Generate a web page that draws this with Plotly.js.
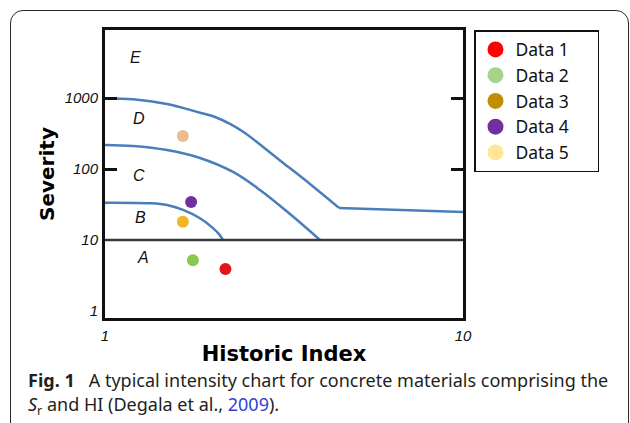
<!DOCTYPE html>
<html>
<head>
<meta charset="utf-8">
<script src="https://cdn.plot.ly/plotly-3.0.1.min.js"></script>
<style>
  html, body { margin: 0; padding: 0; background: #fff; }
  #wrap { position: relative; width: 630px; height: 423px; overflow: hidden; }
  #chart { position: absolute; left: 0; top: 0; width: 630px; height: 423px; }
  #frame { position: absolute; left: 10px; top: 10px; width: 617px; height: 440px;
           border: 1.3px solid #2a2a2a; border-radius: 13px; pointer-events: none; }
</style>
</head>
<body>
<div id="wrap">
  <div id="chart"></div>
  <div id="frame"></div>
</div>
<script>
// ---- data ----
const seriesNames = ['Data 1', 'Data 2', 'Data 3', 'Data 4', 'Data 5'];
const historicIndex = [2.17, 1.76, 1.65, 1.74, 1.65];
const severity = [3.9, 5.2, 18.1, 34.3, 292];
const pointColors = ['#e3151b', '#8cc850', '#f0b722', '#7030a0', '#e9bb8f'];
const legendColors = ['#ff0000', '#a9d18e', '#bf8f00', '#7030a0', '#ffe699'];

// zone boundary curves
const boundaryDE_x = [1, 1.197, 1.49, 1.842, 2.029, 2.235, 2.461, 2.71, 3.083, 3.738, 4.505];
const boundaryDE_y = [984, 959, 823, 621, 540, 431, 321, 221, 132, 61.5, 28.3];
const boundaryDEtail_x = [4.505, 10];
const boundaryDEtail_y = [28.3, 24.8];
const boundaryCD_x = [1, 1.197, 1.49, 1.842, 2.279, 2.71, 3.287, 3.987];
const boundaryCD_y = [218, 211, 185, 143, 90.8, 50.6, 23.2, 10];
const boundaryBC_x = [1, 1.336, 1.49, 1.652, 1.842, 2.003, 2.082, 2.136];
const boundaryBC_y = [33.5, 32.9, 31.1, 26.5, 20.2, 14.7, 12.1, 10];
const boundaryAB_x = [1, 10];
const boundaryAB_y = [10, 10];

const zoneLabels = ['E', 'D', 'C', 'B', 'A'];
const yTickVals = [1, 10, 100, 1000];
const yTickText = ['1', '10', '100', '1000'];
const xTickVals = [1, 10];
const xTickText = ['1', '10'];

// ---- traces ----
const blue = '#4a7ebb';
const traces = [];
const curves = [[boundaryDE_x, boundaryDE_y, 'spline'], [boundaryDEtail_x, boundaryDEtail_y, 'linear'],
                [boundaryCD_x, boundaryCD_y, 'spline'], [boundaryBC_x, boundaryBC_y, 'spline']];
curves.forEach(c => traces.push({
  x: c[0], y: c[1], mode: 'lines', type: 'scatter',
  line: { color: blue, width: 2.5, shape: c[2], smoothing: 1, simplify: false },
  showlegend: false, hoverinfo: 'skip'
}));
traces.push({
  x: boundaryAB_x, y: boundaryAB_y, mode: 'lines', type: 'scatter', yaxis: 'y2',
  line: { color: '#3a3a3a', width: 2.5 }, showlegend: false, hoverinfo: 'skip'
});
seriesNames.forEach((n, i) => traces.push({
  x: [historicIndex[i]], y: [severity[i]], mode: 'markers', type: 'scatter',
  marker: { color: pointColors[i], size: 12 }, showlegend: false, name: n
}));
const pad = '\u00a0\u00a0\u00a0\u00a0\u00a0';
seriesNames.forEach((n, i) => traces.push({
  x: [null], y: [null], mode: 'markers', type: 'scatter', name: n + pad, legendgroup: n,
  marker: { color: legendColors[i], size: 16 }
}));

const L = 105, R = 463, T = 30, B = 318;
const px = v => (v - L) / (R - L);
const py = v => (B - v) / (B - T);
const zonePos = [[135, 57], [139, 118], [139, 175], [140, 217], [143, 257]];

const annotations = zoneLabels.map((z, i) => ({
  text: z, xref: 'paper', yref: 'paper', x: px(zonePos[i][0]), y: py(zonePos[i][1]),
  showarrow: false, xanchor: 'center', yanchor: 'middle',
  font: { family: 'Liberation Sans, Arial', size: 16, style: 'italic', color: '#111' }
}));
annotations.push({
  text: '<b>Fig. 1</b>\u00a0\u00a0 A typical intensity chart for concrete materials comprising the',
  xref: 'paper', yref: 'paper', x: px(26), y: py(380), xanchor: 'left', yanchor: 'middle',
  showarrow: false, font: { family: 'Noto Sans', size: 18, color: '#231f20' }
});
annotations.push({
  text: '<i>S</i><sub>r</sub> and HI (Degala et al., <span style="color:#2f3fd6">2009</span>).',
  xref: 'paper', yref: 'paper', x: px(26), y: py(405), xanchor: 'left', yanchor: 'middle',
  showarrow: false, font: { family: 'Noto Sans', size: 18, color: '#231f20' }
});

const layout = {
  width: 630, height: 423,
  margin: { l: L, r: 630 - R, t: T, b: 423 - B, pad: 0 },
  paper_bgcolor: 'rgba(0,0,0,0)', plot_bgcolor: '#fff',
  showlegend: true,
  legend: {
    x: px(474), y: 1, xanchor: 'left', yanchor: 'top',
    bordercolor: '#111', borderwidth: 1.5, bgcolor: '#fff',
    font: { family: 'Noto Sans', size: 17.5, color: '#111' },
    tracegroupgap: 0, itemclick: false
  },
  xaxis: {
    type: 'log', range: [0, 1], tickvals: xTickVals, ticktext: xTickText,
    showgrid: false, zeroline: false, ticks: '',
    showline: true, linewidth: 3, linecolor: '#111', mirror: true,
    ticklabelstandoff: 2,
    tickfont: { family: 'Liberation Sans, Arial', size: 15, style: 'italic', color: '#111' },
    title: { text: '<b>Historic Index</b>', standoff: 4,
             font: { family: 'DejaVu Sans', size: 21, color: '#000' } }
  },
  yaxis: {
    type: 'log', range: [-0.099, 3.958], tickvals: yTickVals, ticktext: yTickText,
    showgrid: false, zeroline: false, ticks: '',
    showline: true, linewidth: 3, linecolor: '#111', mirror: true,
    ticklabelstandoff: 1,
    tickfont: { family: 'Liberation Sans, Arial', size: 15, style: 'italic', color: '#111' },
    title: { text: '<b>Severity</b>', standoff: 5,
             font: { family: 'DejaVu Sans', size: 20, color: '#000' } }
  },
  yaxis2: {
    type: 'log', range: [-0.099, 3.958], overlaying: 'y', side: 'left', anchor: 'x',
    tickvals: [100, 1000], showticklabels: false, showgrid: false, zeroline: false,
    ticks: 'inside', ticklen: 12, tickwidth: 3, tickcolor: '#111',
    showline: false, mirror: 'ticks'
  },
  annotations: annotations
};

Plotly.newPlot('chart', traces, layout, { displayModeBar: false, staticPlot: true });
</script>
</body>
</html>
